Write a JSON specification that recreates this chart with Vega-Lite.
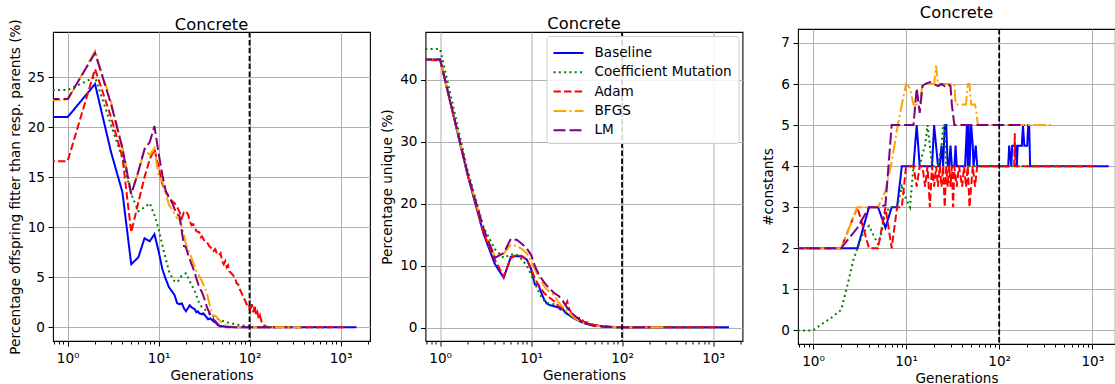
{
  "$schema": "https://vega.github.io/schema/vega-lite/v6.json",
  "autosize": {"type": "pad"},
  "padding": {"left": 7, "top": 4, "right": 0, "bottom": 0},
  "background": "white",
  "config": {
    "font": "DejaVu Sans",
    "view": {"stroke": "black", "strokeWidth": 1.1},
    "axis": {"domain": false, "tickColor": "black", "labelColor": "black", "titleColor": "black", "labelFontSize": 13.6, "titleFontSize": 13.6, "titleFontWeight": "normal", "gridColor": "#b0b0b0", "gridWidth": 1, "labelPadding": 3, "titlePadding": 4, "labelFont": "DejaVu Sans", "titleFont": "DejaVu Sans", "labelFlush": false, "labelOverlap": false, "tickWidth": 1, "tickSize": 5, "titleLimit": 1000},
    "axisX": {"labelPadding": 5},
    "axisY": {"titlePadding": 5, "labelPadding": 3.5},
    "title": {"fontSize": 16.3, "fontWeight": "normal", "font": "DejaVu Sans", "color": "black", "anchor": "middle", "frame": "group", "baseline": "alphabetic"},
    "legend": {"labelFont": "DejaVu Sans", "labelFontSize": 13.6, "labelColor": "black"}
  },
  "datasets": {
    "p1": [
      {"m":"Baseline","g":0.6,"v":21.0},{"m":"Baseline","g":1,"v":21.0},{"m":"Baseline","g":2,"v":24.3},{"m":"Baseline","g":3,"v":17.5},{"m":"Baseline","g":4,"v":13.5},{"m":"Baseline","g":5,"v":6.3},{"m":"Baseline","g":6,"v":7.0},{"m":"Baseline","g":7,"v":8.9},{"m":"Baseline","g":8,"v":8.6},{"m":"Baseline","g":9,"v":9.3},{"m":"Baseline","g":10,"v":7.6},{"m":"Baseline","g":11,"v":5.8},{"m":"Baseline","g":12,"v":4.8},{"m":"Baseline","g":13,"v":4.0},{"m":"Baseline","g":14,"v":3.6},{"m":"Baseline","g":15,"v":3.2},{"m":"Baseline","g":16,"v":2.4},{"m":"Baseline","g":17,"v":2.3},{"m":"Baseline","g":18,"v":2.4},{"m":"Baseline","g":19,"v":1.9},{"m":"Baseline","g":20,"v":1.6},{"m":"Baseline","g":21,"v":1.9},{"m":"Baseline","g":22,"v":2.2},{"m":"Baseline","g":23,"v":2.0},{"m":"Baseline","g":25,"v":1.8},{"m":"Baseline","g":26,"v":1.5},{"m":"Baseline","g":27,"v":1.6},{"m":"Baseline","g":28,"v":1.4},{"m":"Baseline","g":30,"v":1.3},{"m":"Baseline","g":31,"v":1.4},{"m":"Baseline","g":33,"v":1.1},{"m":"Baseline","g":35,"v":0.8},{"m":"Baseline","g":37,"v":0.9},{"m":"Baseline","g":40,"v":0.6},{"m":"Baseline","g":42,"v":0.5},{"m":"Baseline","g":45,"v":0.2},{"m":"Baseline","g":50,"v":0.1},{"m":"Baseline","g":60,"v":0.05},{"m":"Baseline","g":70,"v":0},{"m":"Baseline","g":1500,"v":0},
      {"m":"Coefficient Mutation","g":0.6,"v":23.7},{"m":"Coefficient Mutation","g":1,"v":23.7},{"m":"Coefficient Mutation","g":2,"v":25.0},{"m":"Coefficient Mutation","g":3,"v":20.2},{"m":"Coefficient Mutation","g":4,"v":16.9},{"m":"Coefficient Mutation","g":5,"v":13.3},{"m":"Coefficient Mutation","g":6,"v":11.6},{"m":"Coefficient Mutation","g":7,"v":12.0},{"m":"Coefficient Mutation","g":8,"v":12.4},{"m":"Coefficient Mutation","g":9,"v":11.2},{"m":"Coefficient Mutation","g":10,"v":9.8},{"m":"Coefficient Mutation","g":11,"v":8.2},{"m":"Coefficient Mutation","g":12,"v":6.8},{"m":"Coefficient Mutation","g":13,"v":5.6},{"m":"Coefficient Mutation","g":14,"v":5.0},{"m":"Coefficient Mutation","g":15,"v":4.6},{"m":"Coefficient Mutation","g":16,"v":4.5},{"m":"Coefficient Mutation","g":17,"v":4.8},{"m":"Coefficient Mutation","g":18,"v":5.2},{"m":"Coefficient Mutation","g":20,"v":5.4},{"m":"Coefficient Mutation","g":22,"v":4.6},{"m":"Coefficient Mutation","g":25,"v":3.6},{"m":"Coefficient Mutation","g":28,"v":2.4},{"m":"Coefficient Mutation","g":30,"v":2.0},{"m":"Coefficient Mutation","g":34,"v":1.6},{"m":"Coefficient Mutation","g":38,"v":1.2},{"m":"Coefficient Mutation","g":43,"v":0.9},{"m":"Coefficient Mutation","g":50,"v":0.65},{"m":"Coefficient Mutation","g":60,"v":0.43},{"m":"Coefficient Mutation","g":70,"v":0.3},{"m":"Coefficient Mutation","g":80,"v":0.2},{"m":"Coefficient Mutation","g":95,"v":0.1},{"m":"Coefficient Mutation","g":110,"v":0.03},{"m":"Coefficient Mutation","g":130,"v":0},{"m":"Coefficient Mutation","g":800,"v":0},
      {"m":"Adam","g":0.6,"v":16.6},{"m":"Adam","g":1,"v":16.6},{"m":"Adam","g":2,"v":25.8},{"m":"Adam","g":3,"v":21.0},{"m":"Adam","g":4,"v":17.0},{"m":"Adam","g":5,"v":9.5},{"m":"Adam","g":6,"v":12.5},{"m":"Adam","g":7,"v":15.0},{"m":"Adam","g":8,"v":16.8},{"m":"Adam","g":9,"v":17.8},{"m":"Adam","g":10,"v":16.0},{"m":"Adam","g":11,"v":14.3},{"m":"Adam","g":12,"v":13.5},{"m":"Adam","g":13,"v":13.0},{"m":"Adam","g":14,"v":12.6},{"m":"Adam","g":15,"v":12.4},{"m":"Adam","g":16,"v":12.0},{"m":"Adam","g":17,"v":11.5},{"m":"Adam","g":18,"v":10.9},{"m":"Adam","g":19,"v":11.5},{"m":"Adam","g":20,"v":11.6},{"m":"Adam","g":21,"v":11.3},{"m":"Adam","g":22,"v":10.6},{"m":"Adam","g":23,"v":10.2},{"m":"Adam","g":24,"v":10.3},{"m":"Adam","g":25,"v":10.0},{"m":"Adam","g":26,"v":9.6},{"m":"Adam","g":28,"v":9.5},{"m":"Adam","g":29,"v":9.0},{"m":"Adam","g":30,"v":9.1},{"m":"Adam","g":32,"v":8.6},{"m":"Adam","g":34,"v":8.5},{"m":"Adam","g":36,"v":8.1},{"m":"Adam","g":38,"v":7.9},{"m":"Adam","g":40,"v":7.6},{"m":"Adam","g":42,"v":7.8},{"m":"Adam","g":44,"v":7.3},{"m":"Adam","g":46,"v":7.2},{"m":"Adam","g":48,"v":7.4},{"m":"Adam","g":50,"v":6.6},{"m":"Adam","g":52,"v":6.3},{"m":"Adam","g":54,"v":6.6},{"m":"Adam","g":56,"v":6.0},{"m":"Adam","g":58,"v":6.2},{"m":"Adam","g":60,"v":5.6},{"m":"Adam","g":63,"v":5.4},{"m":"Adam","g":66,"v":5.2},{"m":"Adam","g":70,"v":4.8},{"m":"Adam","g":72,"v":4.4},{"m":"Adam","g":75,"v":4.3},{"m":"Adam","g":78,"v":3.8},{"m":"Adam","g":82,"v":3.4},{"m":"Adam","g":86,"v":3.0},{"m":"Adam","g":90,"v":2.6},{"m":"Adam","g":94,"v":2.2},{"m":"Adam","g":98,"v":2.3},{"m":"Adam","g":102,"v":1.5},{"m":"Adam","g":106,"v":2.3},{"m":"Adam","g":110,"v":1.5},{"m":"Adam","g":114,"v":2.2},{"m":"Adam","g":118,"v":1.2},{"m":"Adam","g":122,"v":1.5},{"m":"Adam","g":126,"v":0.9},{"m":"Adam","g":130,"v":1.2},{"m":"Adam","g":135,"v":0.6},{"m":"Adam","g":140,"v":0.5},{"m":"Adam","g":145,"v":0.2},{"m":"Adam","g":150,"v":0.1},{"m":"Adam","g":160,"v":0},{"m":"Adam","g":1165,"v":0},
      {"m":"BFGS","g":0.6,"v":22.7},{"m":"BFGS","g":1,"v":22.7},{"m":"BFGS","g":2,"v":27.6},{"m":"BFGS","g":3,"v":22.5},{"m":"BFGS","g":4,"v":18.0},{"m":"BFGS","g":5,"v":13.3},{"m":"BFGS","g":6,"v":15.5},{"m":"BFGS","g":7,"v":17.8},{"m":"BFGS","g":8,"v":17.2},{"m":"BFGS","g":9,"v":17.9},{"m":"BFGS","g":10,"v":15.0},{"m":"BFGS","g":11,"v":14.6},{"m":"BFGS","g":12,"v":13.4},{"m":"BFGS","g":13,"v":12.2},{"m":"BFGS","g":14,"v":11.8},{"m":"BFGS","g":15,"v":11.3},{"m":"BFGS","g":16,"v":10.9},{"m":"BFGS","g":17,"v":10.8},{"m":"BFGS","g":18,"v":10.0},{"m":"BFGS","g":19,"v":9.2},{"m":"BFGS","g":20,"v":8.3},{"m":"BFGS","g":21,"v":7.8},{"m":"BFGS","g":22,"v":7.4},{"m":"BFGS","g":24,"v":6.5},{"m":"BFGS","g":26,"v":5.6},{"m":"BFGS","g":28,"v":5.1},{"m":"BFGS","g":30,"v":4.6},{"m":"BFGS","g":32,"v":4.0},{"m":"BFGS","g":34,"v":3.4},{"m":"BFGS","g":36,"v":2.4},{"m":"BFGS","g":38,"v":1.6},{"m":"BFGS","g":40,"v":1.2},{"m":"BFGS","g":43,"v":1.1},{"m":"BFGS","g":46,"v":0.8},{"m":"BFGS","g":50,"v":0.4},{"m":"BFGS","g":55,"v":0.2},{"m":"BFGS","g":60,"v":0.1},{"m":"BFGS","g":70,"v":0},{"m":"BFGS","g":365,"v":0},
      {"m":"LM","g":0.6,"v":22.8},{"m":"LM","g":1,"v":22.8},{"m":"LM","g":2,"v":27.4},{"m":"LM","g":3,"v":22.3},{"m":"LM","g":4,"v":17.9},{"m":"LM","g":5,"v":13.3},{"m":"LM","g":6,"v":15.6},{"m":"LM","g":7,"v":17.8},{"m":"LM","g":8,"v":18.5},{"m":"LM","g":9,"v":20.1},{"m":"LM","g":10,"v":17.4},{"m":"LM","g":11,"v":15.2},{"m":"LM","g":12,"v":13.6},{"m":"LM","g":13,"v":13.0},{"m":"LM","g":14,"v":12.5},{"m":"LM","g":15,"v":11.8},{"m":"LM","g":16,"v":11.3},{"m":"LM","g":17,"v":11.1},{"m":"LM","g":18,"v":9.6},{"m":"LM","g":19,"v":8.1},{"m":"LM","g":20,"v":8.0},{"m":"LM","g":21,"v":7.3},{"m":"LM","g":22,"v":6.8},{"m":"LM","g":23,"v":6.3},{"m":"LM","g":24,"v":5.9},{"m":"LM","g":26,"v":4.9},{"m":"LM","g":28,"v":4.0},{"m":"LM","g":30,"v":3.5},{"m":"LM","g":32,"v":2.8},{"m":"LM","g":34,"v":2.0},{"m":"LM","g":36,"v":1.5},{"m":"LM","g":38,"v":1.0},{"m":"LM","g":42,"v":0.6},{"m":"LM","g":47,"v":0.1},{"m":"LM","g":55,"v":0},{"m":"LM","g":190,"v":0}
    ],
    "p2": [
      {"m":"Baseline","g":0.6,"v":43.3},{"m":"Baseline","g":1,"v":43.3},{"m":"Baseline","g":2,"v":24.7},{"m":"Baseline","g":3,"v":15.2},{"m":"Baseline","g":4,"v":10.3},{"m":"Baseline","g":5,"v":8.1},{"m":"Baseline","g":6,"v":11.5},{"m":"Baseline","g":7,"v":11.6},{"m":"Baseline","g":8,"v":11.5},{"m":"Baseline","g":9,"v":11.0},{"m":"Baseline","g":10,"v":9.5},{"m":"Baseline","g":11,"v":7.0},{"m":"Baseline","g":12,"v":7.0},{"m":"Baseline","g":13,"v":5.6},{"m":"Baseline","g":14,"v":4.5},{"m":"Baseline","g":15,"v":3.9},{"m":"Baseline","g":16,"v":3.7},{"m":"Baseline","g":18,"v":3.5},{"m":"Baseline","g":20,"v":3.3},{"m":"Baseline","g":21,"v":3.0},{"m":"Baseline","g":22,"v":3.2},{"m":"Baseline","g":24,"v":2.4},{"m":"Baseline","g":26,"v":2.1},{"m":"Baseline","g":30,"v":1.5},{"m":"Baseline","g":35,"v":1.0},{"m":"Baseline","g":40,"v":0.7},{"m":"Baseline","g":50,"v":0.4},{"m":"Baseline","g":70,"v":0.2},{"m":"Baseline","g":100,"v":0.1},{"m":"Baseline","g":1500,"v":0.1},
      {"m":"Coefficient Mutation","g":0.6,"v":45.0},{"m":"Coefficient Mutation","g":1,"v":45.0},{"m":"Coefficient Mutation","g":2,"v":25.5},{"m":"Coefficient Mutation","g":3,"v":16.3},{"m":"Coefficient Mutation","g":4,"v":12.7},{"m":"Coefficient Mutation","g":5,"v":11.3},{"m":"Coefficient Mutation","g":6,"v":11.9},{"m":"Coefficient Mutation","g":7,"v":11.8},{"m":"Coefficient Mutation","g":8,"v":11.0},{"m":"Coefficient Mutation","g":9,"v":10.0},{"m":"Coefficient Mutation","g":10,"v":8.6},{"m":"Coefficient Mutation","g":11,"v":7.2},{"m":"Coefficient Mutation","g":12,"v":6.0},{"m":"Coefficient Mutation","g":13,"v":5.0},{"m":"Coefficient Mutation","g":14,"v":4.4},{"m":"Coefficient Mutation","g":15,"v":4.0},{"m":"Coefficient Mutation","g":18,"v":3.8},{"m":"Coefficient Mutation","g":20,"v":3.5},{"m":"Coefficient Mutation","g":22,"v":3.0},{"m":"Coefficient Mutation","g":25,"v":2.3},{"m":"Coefficient Mutation","g":30,"v":1.5},{"m":"Coefficient Mutation","g":40,"v":0.8},{"m":"Coefficient Mutation","g":50,"v":0.4},{"m":"Coefficient Mutation","g":70,"v":0.2},{"m":"Coefficient Mutation","g":100,"v":0.1},{"m":"Coefficient Mutation","g":800,"v":0.1},
      {"m":"Adam","g":0.6,"v":43.2},{"m":"Adam","g":1,"v":43.2},{"m":"Adam","g":2,"v":24.8},{"m":"Adam","g":3,"v":15.3},{"m":"Adam","g":4,"v":11.0},{"m":"Adam","g":5,"v":8.3},{"m":"Adam","g":6,"v":11.3},{"m":"Adam","g":7,"v":11.8},{"m":"Adam","g":8,"v":11.6},{"m":"Adam","g":9,"v":11.0},{"m":"Adam","g":10,"v":9.6},{"m":"Adam","g":11,"v":8.0},{"m":"Adam","g":12,"v":7.0},{"m":"Adam","g":13,"v":6.2},{"m":"Adam","g":14,"v":5.6},{"m":"Adam","g":15,"v":5.2},{"m":"Adam","g":17,"v":4.6},{"m":"Adam","g":19,"v":4.0},{"m":"Adam","g":20,"v":3.5},{"m":"Adam","g":22,"v":3.2},{"m":"Adam","g":24,"v":3.8},{"m":"Adam","g":25,"v":4.3},{"m":"Adam","g":26,"v":3.2},{"m":"Adam","g":28,"v":2.3},{"m":"Adam","g":30,"v":1.8},{"m":"Adam","g":32,"v":1.5},{"m":"Adam","g":35,"v":1.7},{"m":"Adam","g":38,"v":1.0},{"m":"Adam","g":42,"v":0.9},{"m":"Adam","g":45,"v":0.7},{"m":"Adam","g":50,"v":0.5},{"m":"Adam","g":60,"v":0.3},{"m":"Adam","g":80,"v":0.2},{"m":"Adam","g":100,"v":0.1},{"m":"Adam","g":1165,"v":0.1},
      {"m":"BFGS","g":0.6,"v":43.3},{"m":"BFGS","g":1,"v":43.3},{"m":"BFGS","g":2,"v":25.0},{"m":"BFGS","g":3,"v":16.0},{"m":"BFGS","g":4,"v":11.5},{"m":"BFGS","g":5,"v":12.0},{"m":"BFGS","g":6,"v":13.5},{"m":"BFGS","g":7,"v":13.2},{"m":"BFGS","g":8,"v":12.7},{"m":"BFGS","g":9,"v":12.0},{"m":"BFGS","g":10,"v":10.8},{"m":"BFGS","g":11,"v":9.5},{"m":"BFGS","g":12,"v":8.3},{"m":"BFGS","g":13,"v":7.5},{"m":"BFGS","g":14,"v":6.7},{"m":"BFGS","g":15,"v":6.2},{"m":"BFGS","g":18,"v":5.2},{"m":"BFGS","g":20,"v":4.2},{"m":"BFGS","g":22,"v":3.5},{"m":"BFGS","g":25,"v":2.7},{"m":"BFGS","g":30,"v":1.6},{"m":"BFGS","g":35,"v":1.0},{"m":"BFGS","g":40,"v":0.6},{"m":"BFGS","g":50,"v":0.3},{"m":"BFGS","g":70,"v":0.2},{"m":"BFGS","g":100,"v":0.1},{"m":"BFGS","g":300,"v":0.1},
      {"m":"LM","g":0.6,"v":43.3},{"m":"LM","g":1,"v":43.3},{"m":"LM","g":2,"v":25.0},{"m":"LM","g":3,"v":16.0},{"m":"LM","g":4,"v":11.3},{"m":"LM","g":5,"v":12.1},{"m":"LM","g":6,"v":14.4},{"m":"LM","g":7,"v":14.2},{"m":"LM","g":8,"v":13.5},{"m":"LM","g":9,"v":12.8},{"m":"LM","g":10,"v":11.8},{"m":"LM","g":11,"v":10.0},{"m":"LM","g":12,"v":8.8},{"m":"LM","g":13,"v":8.0},{"m":"LM","g":14,"v":7.3},{"m":"LM","g":15,"v":6.8},{"m":"LM","g":18,"v":5.6},{"m":"LM","g":20,"v":5.2},{"m":"LM","g":22,"v":4.5},{"m":"LM","g":25,"v":3.2},{"m":"LM","g":30,"v":2.0},{"m":"LM","g":35,"v":1.2},{"m":"LM","g":40,"v":0.7},{"m":"LM","g":50,"v":0.3},{"m":"LM","g":60,"v":0.2},{"m":"LM","g":100,"v":0.1},{"m":"LM","g":190,"v":0.1}
    ],
    "p3": [
      {"m":"Baseline","g":0.6,"v":2},{"m":"Baseline","g":1,"v":2},{"m":"Baseline","g":2,"v":2},{"m":"Baseline","g":3,"v":2},{"m":"Baseline","g":4,"v":3},{"m":"Baseline","g":5,"v":3},{"m":"Baseline","g":6,"v":2.5},{"m":"Baseline","g":7,"v":3},{"m":"Baseline","g":8,"v":3},{"m":"Baseline","g":9,"v":4},{"m":"Baseline","g":10,"v":4},{"m":"Baseline","g":12,"v":4},{"m":"Baseline","g":13,"v":5},{"m":"Baseline","g":14,"v":4},{"m":"Baseline","g":19,"v":4},{"m":"Baseline","g":20,"v":5},{"m":"Baseline","g":21,"v":4.5},{"m":"Baseline","g":22,"v":4},{"m":"Baseline","g":23,"v":4},{"m":"Baseline","g":24,"v":4.5},{"m":"Baseline","g":25,"v":4},{"m":"Baseline","g":26,"v":5},{"m":"Baseline","g":27,"v":5},{"m":"Baseline","g":28,"v":4},{"m":"Baseline","g":29,"v":4},{"m":"Baseline","g":30,"v":4.5},{"m":"Baseline","g":31,"v":4},{"m":"Baseline","g":33,"v":4},{"m":"Baseline","g":34,"v":4.5},{"m":"Baseline","g":35,"v":4},{"m":"Baseline","g":43,"v":4},{"m":"Baseline","g":45,"v":5},{"m":"Baseline","g":46,"v":4},{"m":"Baseline","g":47,"v":5},{"m":"Baseline","g":48,"v":4},{"m":"Baseline","g":50,"v":5},{"m":"Baseline","g":52,"v":4.5},{"m":"Baseline","g":53,"v":4},{"m":"Baseline","g":56,"v":4.5},{"m":"Baseline","g":58,"v":4},{"m":"Baseline","g":125,"v":4},{"m":"Baseline","g":128,"v":4.5},{"m":"Baseline","g":135,"v":4},{"m":"Baseline","g":138,"v":4.5},{"m":"Baseline","g":150,"v":4.5},{"m":"Baseline","g":155,"v":4},{"m":"Baseline","g":158,"v":4.5},{"m":"Baseline","g":175,"v":4.5},{"m":"Baseline","g":180,"v":5},{"m":"Baseline","g":186,"v":4.5},{"m":"Baseline","g":200,"v":4.5},{"m":"Baseline","g":205,"v":5},{"m":"Baseline","g":210,"v":5},{"m":"Baseline","g":215,"v":4},{"m":"Baseline","g":1500,"v":4},
      {"m":"Coefficient Mutation","g":0.6,"v":0},{"m":"Coefficient Mutation","g":1,"v":0},{"m":"Coefficient Mutation","g":1.25,"v":0.16},{"m":"Coefficient Mutation","g":1.6,"v":0.32},{"m":"Coefficient Mutation","g":2,"v":0.5},{"m":"Coefficient Mutation","g":2.2,"v":0.85},{"m":"Coefficient Mutation","g":2.4,"v":1.2},{"m":"Coefficient Mutation","g":2.7,"v":1.7},{"m":"Coefficient Mutation","g":3,"v":2.0},{"m":"Coefficient Mutation","g":3.5,"v":2.4},{"m":"Coefficient Mutation","g":4,"v":2.55},{"m":"Coefficient Mutation","g":4.5,"v":2.3},{"m":"Coefficient Mutation","g":5,"v":2.1},{"m":"Coefficient Mutation","g":5.5,"v":2.4},{"m":"Coefficient Mutation","g":6,"v":2.9},{"m":"Coefficient Mutation","g":7,"v":3.0},{"m":"Coefficient Mutation","g":8,"v":3.0},{"m":"Coefficient Mutation","g":9,"v":3.5},{"m":"Coefficient Mutation","g":10,"v":3.2},{"m":"Coefficient Mutation","g":11,"v":3.0},{"m":"Coefficient Mutation","g":12,"v":4.0},{"m":"Coefficient Mutation","g":14,"v":4.0},{"m":"Coefficient Mutation","g":15,"v":4.3},{"m":"Coefficient Mutation","g":16,"v":4.5},{"m":"Coefficient Mutation","g":17,"v":5.0},{"m":"Coefficient Mutation","g":18,"v":4.5},{"m":"Coefficient Mutation","g":19,"v":4.0},{"m":"Coefficient Mutation","g":22,"v":4.0},{"m":"Coefficient Mutation","g":24,"v":4.5},{"m":"Coefficient Mutation","g":25,"v":5.0},{"m":"Coefficient Mutation","g":26,"v":5.0},{"m":"Coefficient Mutation","g":27,"v":4.0},{"m":"Coefficient Mutation","g":800,"v":4.0},
      {"m":"Adam","g":0.6,"v":2},{"m":"Adam","g":1,"v":2},{"m":"Adam","g":2,"v":2},{"m":"Adam","g":3,"v":3},{"m":"Adam","g":4,"v":2},{"m":"Adam","g":5,"v":2},{"m":"Adam","g":6,"v":3},{"m":"Adam","g":7,"v":2},{"m":"Adam","g":8,"v":3},{"m":"Adam","g":9,"v":3},{"m":"Adam","g":10,"v":4},{"m":"Adam","g":12,"v":4},{"m":"Adam","g":13,"v":3.5},{"m":"Adam","g":14,"v":4},{"m":"Adam","g":15,"v":4},{"m":"Adam","g":16,"v":3.5},{"m":"Adam","g":17,"v":4},{"m":"Adam","g":18,"v":3},{"m":"Adam","g":19,"v":4},{"m":"Adam","g":20,"v":3.5},{"m":"Adam","g":21,"v":4},{"m":"Adam","g":22,"v":3.5},{"m":"Adam","g":23,"v":4},{"m":"Adam","g":24,"v":3.5},{"m":"Adam","g":25,"v":4},{"m":"Adam","g":26,"v":3},{"m":"Adam","g":27,"v":4},{"m":"Adam","g":28,"v":3.5},{"m":"Adam","g":29,"v":4},{"m":"Adam","g":30,"v":3.5},{"m":"Adam","g":31,"v":4},{"m":"Adam","g":32,"v":3},{"m":"Adam","g":33,"v":4},{"m":"Adam","g":35,"v":3.5},{"m":"Adam","g":37,"v":4},{"m":"Adam","g":40,"v":3.5},{"m":"Adam","g":42,"v":4},{"m":"Adam","g":44,"v":3.5},{"m":"Adam","g":46,"v":4},{"m":"Adam","g":48,"v":3},{"m":"Adam","g":50,"v":3.5},{"m":"Adam","g":52,"v":4},{"m":"Adam","g":55,"v":3.5},{"m":"Adam","g":58,"v":4},{"m":"Adam","g":145,"v":4},{"m":"Adam","g":147,"v":4.8},{"m":"Adam","g":149,"v":4},{"m":"Adam","g":1165,"v":4},
      {"m":"BFGS","g":0.6,"v":2},{"m":"BFGS","g":1,"v":2},{"m":"BFGS","g":2,"v":2},{"m":"BFGS","g":3,"v":3},{"m":"BFGS","g":5,"v":3},{"m":"BFGS","g":6,"v":3.4},{"m":"BFGS","g":7,"v":4.1},{"m":"BFGS","g":8,"v":4.9},{"m":"BFGS","g":9,"v":5.5},{"m":"BFGS","g":10,"v":6.0},{"m":"BFGS","g":11,"v":5.9},{"m":"BFGS","g":12,"v":5.5},{"m":"BFGS","g":14,"v":5.5},{"m":"BFGS","g":15,"v":6.0},{"m":"BFGS","g":20,"v":6.0},{"m":"BFGS","g":21,"v":6.45},{"m":"BFGS","g":22,"v":6.0},{"m":"BFGS","g":33,"v":6.0},{"m":"BFGS","g":34,"v":5.5},{"m":"BFGS","g":44,"v":5.5},{"m":"BFGS","g":46,"v":6.0},{"m":"BFGS","g":48,"v":6.0},{"m":"BFGS","g":50,"v":5.5},{"m":"BFGS","g":55,"v":5.5},{"m":"BFGS","g":57,"v":5.3},{"m":"BFGS","g":59,"v":5.0},{"m":"BFGS","g":365,"v":5.0},
      {"m":"LM","g":0.6,"v":2},{"m":"LM","g":1,"v":2},{"m":"LM","g":2,"v":2},{"m":"LM","g":3,"v":2.5},{"m":"LM","g":4,"v":3},{"m":"LM","g":5,"v":3},{"m":"LM","g":6,"v":3.05},{"m":"LM","g":7,"v":5},{"m":"LM","g":12,"v":5},{"m":"LM","g":13,"v":5.9},{"m":"LM","g":14,"v":5.3},{"m":"LM","g":15,"v":5.95},{"m":"LM","g":16,"v":6.0},{"m":"LM","g":18,"v":6.05},{"m":"LM","g":20,"v":6.0},{"m":"LM","g":22,"v":5.95},{"m":"LM","g":24,"v":6.0},{"m":"LM","g":26,"v":5.95},{"m":"LM","g":28,"v":6.0},{"m":"LM","g":30,"v":5.95},{"m":"LM","g":31,"v":5.5},{"m":"LM","g":33,"v":5.0},{"m":"LM","g":190,"v":5.0}
    ],
    "vline": [{"g": 100}]
  },
  "hconcat": [
    {
      "width": 317, "height": 309,
      "title": {"text": "Concrete", "offset": -14.3, "frame": "group"},
      "layer": [
        {
          "data": {"name": "p1"},
          "mark": {"type": "line", "clip": true, "strokeWidth": 2},
          "encoding": {
            "x": {"field": "g", "type": "quantitative", "scale": {"type": "log", "domain": [0.69, 2110], "nice": false},
              "axis": {"title": "Generations", "values": [0.7,0.8,0.9,1,2,3,4,5,6,7,8,9,10,20,30,40,50,60,70,80,90,100,200,300,400,500,600,700,800,900,1000,2000],
                "labelExpr": "datum.value == 1 ? '10⁰' : datum.value == 10 ? '10¹' : datum.value == 100 ? '10²' : datum.value == 1000 ? '10³' : ''",
                "gridOpacity": {"condition": {"test": "indexof([1,10,100,1000], datum.value) >= 0", "value": 1}, "value": 0},
                "tickSize": {"condition": {"test": "indexof([1,10,100,1000], datum.value) >= 0", "value": 5}, "value": 3}}},
            "y": {"field": "v", "type": "quantitative", "scale": {"domain": [-1.37, 29.5], "nice": false, "zero": false},
              "axis": {"title": "Percentage offspring fitter than resp. parents (%)", "values": [0,5,10,15,20,25]}},
            "color": {"field": "m", "type": "nominal", "scale": {"domain": ["Baseline","Coefficient Mutation","Adam","BFGS","LM"], "range": ["#0000ff","#008000","#ff0000","#ffa500","#800080"]}, "legend": null},
            "strokeDash": {"field": "m", "type": "nominal", "scale": {"domain": ["Baseline","Coefficient Mutation","Adam","BFGS","LM"], "range": [[1,0],[2,3.3],[7.4,3.2],[12.8,3.2,2,3.2],[12,4]]}, "legend": null}
          }
        },
        {
          "data": {"name": "vline"},
          "mark": {"type": "rule", "color": "black", "strokeWidth": 1.8, "strokeDash": [5.5, 2.4]},
          "encoding": {"x": {"field": "g", "type": "quantitative"}}
        }
      ]
    },
    {
      "width": 317, "height": 309,
      "title": {"text": "Concrete", "offset": -1.3, "frame": "group"},
      "layer": [
        {
          "data": {"name": "p2"},
          "mark": {"type": "line", "clip": true, "strokeWidth": 2},
          "encoding": {
            "x": {"field": "g", "type": "quantitative", "scale": {"type": "log", "domain": [0.69, 2110], "nice": false},
              "axis": {"title": "Generations", "values": [0.7,0.8,0.9,1,2,3,4,5,6,7,8,9,10,20,30,40,50,60,70,80,90,100,200,300,400,500,600,700,800,900,1000,2000],
                "labelExpr": "datum.value == 1 ? '10⁰' : datum.value == 10 ? '10¹' : datum.value == 100 ? '10²' : datum.value == 1000 ? '10³' : ''",
                "gridOpacity": {"condition": {"test": "indexof([1,10,100,1000], datum.value) >= 0", "value": 1}, "value": 0},
                "tickSize": {"condition": {"test": "indexof([1,10,100,1000], datum.value) >= 0", "value": 5}, "value": 3}}},
            "y": {"field": "v", "type": "quantitative", "scale": {"domain": [-2.1, 47.74], "nice": false, "zero": false},
              "axis": {"title": "Percentage unique (%)", "values": [0,10,20,30,40]}},
            "color": {"field": "m", "type": "nominal", "scale": {"domain": ["Baseline","Coefficient Mutation","Adam","BFGS","LM"], "range": ["#0000ff","#008000","#ff0000","#ffa500","#800080"]},
              "legend": {"title": null, "orient": "top-right", "offset": 4, "padding": 6, "fillColor": "rgba(255,255,255,0.85)", "strokeColor": "#d0d0d0", "cornerRadius": 3, "symbolType": "M-1,0H2", "symbolSize": 400, "symbolStrokeWidth": 2, "symbolFillColor": "transparent", "labelOffset": 20, "rowPadding": 1.3, "labelLimit": 400}},
            "strokeDash": {"field": "m", "type": "nominal", "scale": {"domain": ["Baseline","Coefficient Mutation","Adam","BFGS","LM"], "range": [[1,0],[2,3.3],[7.4,3.2],[12.8,3.2,2,3.2],[12,4]]},
              "legend": {"title": null, "orient": "top-right", "offset": 4, "padding": 6, "fillColor": "rgba(255,255,255,0.85)", "strokeColor": "#d0d0d0", "cornerRadius": 3, "symbolType": "M-1,0H2", "symbolSize": 400, "symbolStrokeWidth": 2, "symbolFillColor": "transparent", "labelOffset": 20, "rowPadding": 1.3, "labelLimit": 400}}
          }
        },
        {
          "data": {"name": "vline"},
          "mark": {"type": "rule", "color": "black", "strokeWidth": 1.8, "strokeDash": [5.5, 2.4]},
          "encoding": {"x": {"field": "g", "type": "quantitative"}}
        }
      ]
    },
    {
      "width": 317, "height": 315,
      "title": {"text": "Concrete", "offset": 7, "frame": "group"},
      "layer": [
        {
          "data": {"name": "p3"},
          "mark": {"type": "line", "clip": true, "strokeWidth": 2},
          "encoding": {
            "x": {"field": "g", "type": "quantitative", "scale": {"type": "log", "domain": [0.69, 1754], "nice": false},
              "axis": {"title": "Generations", "values": [0.7,0.8,0.9,1,2,3,4,5,6,7,8,9,10,20,30,40,50,60,70,80,90,100,200,300,400,500,600,700,800,900,1000],
                "labelExpr": "datum.value == 1 ? '10⁰' : datum.value == 10 ? '10¹' : datum.value == 100 ? '10²' : datum.value == 1000 ? '10³' : ''",
                "gridOpacity": {"condition": {"test": "indexof([1,10,100,1000], datum.value) >= 0", "value": 1}, "value": 0},
                "tickSize": {"condition": {"test": "indexof([1,10,100,1000], datum.value) >= 0", "value": 5}, "value": 3}}},
            "y": {"field": "v", "type": "quantitative", "scale": {"domain": [-0.33, 7.34], "nice": false, "zero": false},
              "axis": {"title": "#constants", "values": [0,1,2,3,4,5,6,7]}},
            "color": {"field": "m", "type": "nominal", "scale": {"domain": ["Baseline","Coefficient Mutation","Adam","BFGS","LM"], "range": ["#0000ff","#008000","#ff0000","#ffa500","#800080"]}, "legend": null},
            "strokeDash": {"field": "m", "type": "nominal", "scale": {"domain": ["Baseline","Coefficient Mutation","Adam","BFGS","LM"], "range": [[1,0],[2,3.3],[7.4,3.2],[12.8,3.2,2,3.2],[12,4]]}, "legend": null}
          }
        },
        {
          "data": {"name": "vline"},
          "mark": {"type": "rule", "color": "black", "strokeWidth": 1.8, "strokeDash": [5.5, 2.4]},
          "encoding": {"x": {"field": "g", "type": "quantitative"}}
        }
      ]
    }
  ],
  "spacing": 55.5,
  "bounds": "flush",
  "center": true,
  "resolve": {"scale": {"x": "independent", "y": "independent", "color": "independent", "strokeDash": "independent"}, "legend": {"color": "independent", "strokeDash": "independent"}}
}
